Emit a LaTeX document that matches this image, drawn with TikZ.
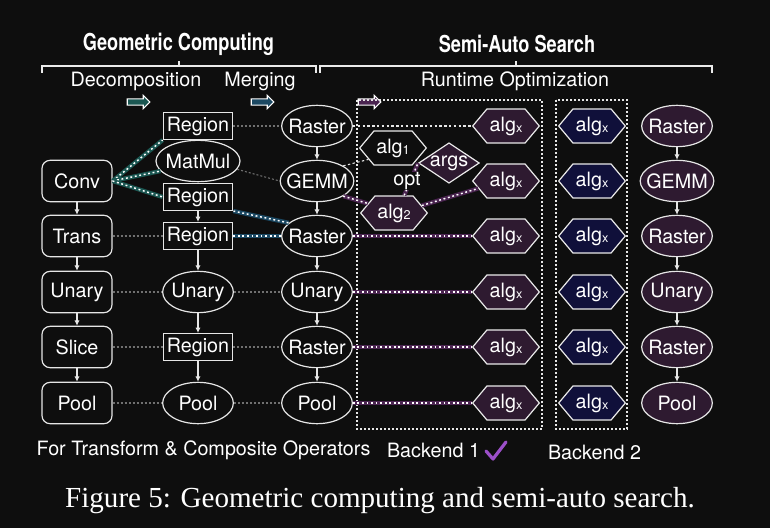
\documentclass[tikz,border=0pt]{standalone}
\usepackage{fontspec}
\setmainfont{TeX Gyre Heros}
\newfontfamily\titlefont[FakeStretch=0.78]{TeX Gyre Heros}
\newfontfamily\capfont{Liberation Serif}
\usetikzlibrary{arrows.meta,positioning,calc,shapes.geometric,shapes.symbols,shapes.arrows}

\definecolor{bgc}{HTML}{0E0E0E}
\definecolor{linec}{HTML}{E6E6E6}
\definecolor{grayc}{HTML}{707070}
\definecolor{tealc}{HTML}{1B5752}
\definecolor{bluec}{HTML}{1B4862}
\definecolor{purpc}{HTML}{4A2450}
\definecolor{purpfill}{HTML}{2E1A30}
\definecolor{navyfill}{HTML}{10103A}
\definecolor{checkc}{HTML}{9B4FC8}
\newcommand{\algsub}[1]{alg{\fontsize{9.5}{10}\selectfont\raisebox{-1pt}{#1}}}

\tikzset{
  opbox/.style={draw=linec,rounded corners=6pt,minimum width=52.5pt,minimum height=31pt,inner sep=0,line width=0.9pt},
  regbox/.style={draw=linec,minimum width=52pt,minimum height=20pt,inner sep=0,line width=1.1pt},
  opell/.style={ellipse,draw=linec,minimum width=53pt,minimum height=31pt,inner sep=0,inner xsep=-3.5pt,line width=0.9pt},
  hexa/.style={signal,signal to=west and east,signal pointer angle=100,draw=linec!85,minimum width=50pt,minimum height=25.5pt,inner sep=0,line width=0.9pt},
  blkarr/.style={single arrow,draw=white,line width=0.8pt,minimum height=17pt,minimum width=9.5pt,single arrow head extend=2.6pt,inner xsep=1pt,inner ysep=2pt},
  vArr/.style={draw=linec,line width=0.8pt,-{Latex[length=4pt,width=4pt]}},
  grayline/.style={draw=grayc,line width=0.8pt,dash pattern=on 1.5pt off 1.5pt},
  whiteline/.style={draw=linec,line width=0.8pt,dash pattern=on 1.8pt off 1.8pt},
  fatline/.style={line width=3.2pt,postaction={draw=white,line width=1.1pt,dash pattern=on 1.4pt off 2pt}},
  boxdot/.style={draw=linec,line width=0.8pt,dash pattern=on 1.2pt off 1.8pt},
  bracec/.style={draw=linec!80,line width=1.1pt}
}

\begin{document}
\begin{tikzpicture}[x=0.75pt,y=-0.75pt,text=white,font=\fontsize{14.8}{17}\selectfont]
\fill[bgc] (0,0) rectangle (770,528);
% headings and brackets
\node[font=\titlefont\bfseries\fontsize{17.5}{20}\selectfont] (geoT) at (178.5,44) {Geometric Computing};
\node[font=\titlefont\bfseries\fontsize{17.5}{20}\selectfont] (semiT) at (517,44) {Semi-Auto Search};
\draw[bracec] (42,73)--(42,66)--(316,66)--(316,73);\draw[bracec] (179,66)--(179,61.5);
\draw[bracec] (320,73)--(320,66)--(712,66)--(712,73);\draw[bracec] (516,66)--(516,61.5);
\node (decT) at (136,81) {Decomposition};\node (mrgT) at (260,81) {Merging};\node (rtT) at (515,81) {Runtime Optimization};
\node[blkarr,fill=tealc] (arA) at (137,102) {};\node[blkarr,fill=bluec] (arB) at (261,102) {};\node[blkarr,fill=purpc] (arC) at (368,102) {};
% backend boxes
\draw[boxdot] (357,100) rectangle (542,429);\draw[boxdot] (556,100) rectangle (627,429);
% column 1
\node[opbox] (conv) at (77,181) {Conv};\node[opbox] (trans) at (77,236) {Trans};\node[opbox] (unA) at (77,292) {Unary};
\node[opbox] (slice) at (77,347) {Slice};\node[opbox] (poolA) at (77,403) {Pool};
% column 2
\node[regbox] (regA) at (198,126) {Region};\node[opell,minimum width=63pt] (mm) at (198,161) {MatMul};
\node[regbox] (regB) at (198,197) {Region};\node[regbox] (regC) at (198,236) {Region};
\node[opell] (unB) at (198,292) {Unary};\node[regbox] (regD) at (198,347) {Region};\node[opell] (poolB) at (198,403) {Pool};
% column 3
\node[opell] (rasA) at (317,126) {Raster};\node[opell] (gemm) at (317,181) {GEMM};\node[opell] (rasB) at (317,236) {Raster};
\node[opell] (unC) at (317,292) {Unary};\node[opell] (rasC) at (317,347) {Raster};\node[opell] (poolC) at (317,403) {Pool};
% search
\node[hexa,fill=bgc] (algA) at (393,148) {\algsub{1}};
\node[diamond,aspect=1.5,draw=linec!85,fill=purpfill,minimum width=42pt,minimum height=28pt,inner sep=0,line width=0.9pt] (args) at (449,163) {args};
\node[hexa,fill=purpfill] (algB) at (394,213) {\algsub{2}};
\node[hexa,fill=purpfill] (axA) at (506,126) {\algsub{x}};\node[hexa,fill=purpfill] (axB) at (506,181) {\algsub{x}};
\node[hexa,fill=purpfill] (axC) at (506,236) {\algsub{x}};\node[hexa,fill=purpfill] (axD) at (506,292) {\algsub{x}};
\node[hexa,fill=purpfill] (axE) at (506,347) {\algsub{x}};\node[hexa,fill=purpfill] (axF) at (506,403) {\algsub{x}};
\node[hexa,fill=navyfill] (bxA) at (592,126) {\algsub{x}};\node[hexa,fill=navyfill] (bxB) at (592,181) {\algsub{x}};
\node[hexa,fill=navyfill] (bxC) at (592,236) {\algsub{x}};\node[hexa,fill=navyfill] (bxD) at (592,292) {\algsub{x}};
\node[hexa,fill=navyfill] (bxE) at (592,347) {\algsub{x}};\node[hexa,fill=navyfill] (bxF) at (592,403) {\algsub{x}};
% result column
\node[opell,fill=purpfill] (rasR) at (677,126) {Raster};\node[opell,fill=purpfill] (gemmR) at (677,181) {GEMM};
\node[opell,fill=purpfill] (rasS) at (677,236) {Raster};\node[opell,fill=purpfill] (unR) at (677,292) {Unary};
\node[opell,fill=purpfill] (rasT) at (677,347) {Raster};\node[opell,fill=purpfill] (poolR) at (677,403) {Pool};
% links
\draw[fatline,draw=tealc] (conv.east)--(regA.south west);\draw[fatline,draw=tealc] (conv.east)--(mm.195);\draw[fatline,draw=tealc] (conv.east)--(regB.west);
\draw[fatline,draw=bluec] (regB.south east)--(rasB.155);\draw[fatline,draw=bluec] (regC.east)--(rasB.west);
\draw[grayline] (regA.east)--(rasA.west);\draw[grayline] (mm.-12)--(gemm.west);\draw[grayline] (trans.east)--(regC.west);
\draw[grayline] (unA.east)--(unB.west);\draw[grayline] (unB.east)--(unC.west);\draw[grayline] (slice.east)--(regD.west);
\draw[grayline] (regD.east)--(rasC.west);\draw[grayline] (poolA.east)--(poolB.west);\draw[grayline] (poolB.east)--(poolC.west);
\draw[whiteline] (rasA.east)--(axA.west);\draw[whiteline] (gemm.30)--(algA.205);
\draw[fatline,draw=purpc] (gemm.-30)--(algB.160);\draw[fatline,draw=purpc] (algB.15)--(axB.195);\draw[fatline,draw=purpc] (algB.60)--(args.west);
\draw[fatline,draw=purpc] (rasB.east)--(axC.west);\draw[fatline,draw=purpc] (unC.east)--(axD.west);
\draw[fatline,draw=purpc] (rasC.east)--(axE.west);\draw[fatline,draw=purpc] (poolC.east)--(axF.west);
\node[fill=bgc,inner sep=0pt] (optT) at (407,181) {opt};
% arrows
\draw[vArr] (conv)--(trans);\draw[vArr] (trans)--(unA);\draw[vArr] (unA)--(slice);\draw[vArr] (slice)--(poolA);
\draw[vArr] (regB)--(regC);\draw[vArr] (regC)--(unB);\draw[vArr] (unB)--(regD);\draw[vArr] (regD)--(poolB);
\draw[vArr] (rasA)--(gemm);\draw[vArr] (gemm)--(rasB);\draw[vArr] (rasB)--(unC);\draw[vArr] (unC)--(rasC);\draw[vArr] (rasC)--(poolC);
\draw[vArr] (rasR)--(gemmR);\draw[vArr] (gemmR)--(rasS);\draw[vArr] (rasS)--(unR);\draw[vArr] (unR)--(rasT);\draw[vArr] (rasT)--(poolR);
% footer
\node (compT) at (203.5,450) {For Transform \& Composite Operators};
\node (beA) at (433.5,450) {Backend 1};\node (beB) at (594.5,452) {Backend 2};
\draw[checkc,line width=2.4pt,line cap=round,line join=round] (486,451)--(493,459)--(506,442);
\node[font=\capfont\fontsize{21.8}{25}\selectfont] (capT) at (380,501) {Figure 5: Geometric computing and semi-auto search.};
\end{tikzpicture}
\end{document}
